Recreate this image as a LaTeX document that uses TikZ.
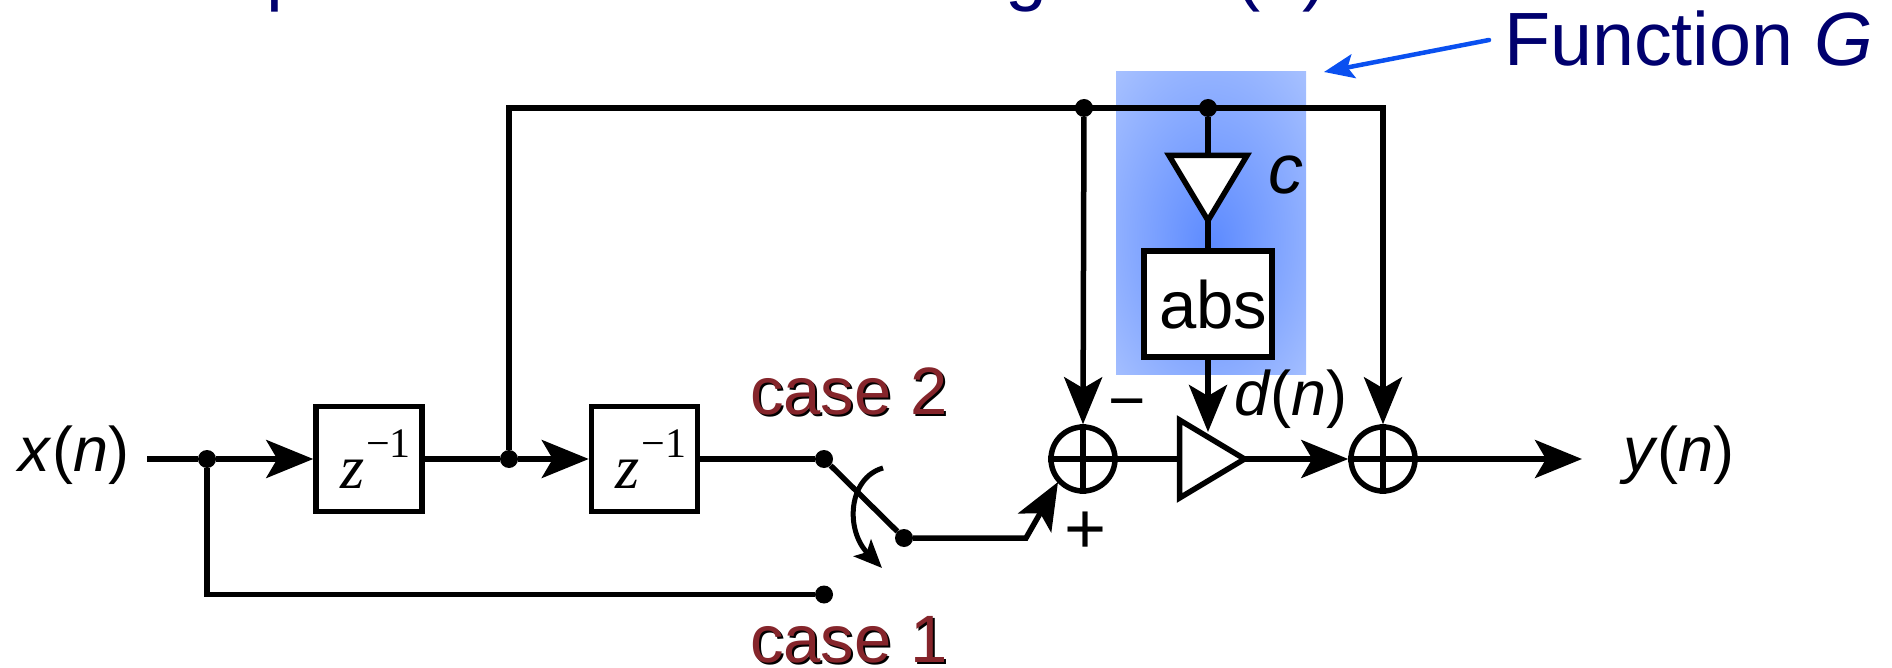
\documentclass[tikz,border=0pt]{standalone}
\usepackage{fontspec}
\setmainfont{Liberation Sans}
\newfontfamily\zfont{Liberation Serif}
\usetikzlibrary{arrows.meta,shapes.geometric}
\definecolor{navytext}{HTML}{00006E}
\definecolor{casered}{HTML}{85252B}
\definecolor{fninner}{HTML}{5C8AFF}
\definecolor{fnouter}{HTML}{A6C0FF}
\definecolor{fnarrow}{HTML}{0A50F0}
\pgfdeclareradialshading{fnglow}{\pgfpoint{0bp}{-4bp}}{color(0bp)=(fninner);color(36bp)=(fnouter);color(50bp)=(fnouter)}
\newcommand{\fs}[1]{\fontsize{#1}{#1}\selectfont}
\newcommand{\shadowed}[1]{\leavevmode\rlap{\raisebox{-2pt}{\kern2pt\textcolor{black}{#1}}}\textcolor{casered}{#1}}
\newcommand{\zinv}{\kern13pt\zfont\fs{62}\itshape z\kern2pt\raisebox{31pt}{\fs{42}\upshape \char"2212 1}}
\tikzset{
  x=1pt,y=-1pt,
  wire/.style={line width=5.5pt,line join=miter},
  flow/.style={wire,-{Stealth[length=47pt,width=38pt,inset=11pt]}},
  diagbox/.style={draw,line width=5.5pt,fill=white,inner sep=0pt,minimum width=106pt,minimum height=105pt},
  dotn/.style={circle,fill=black,inner sep=0pt,minimum size=18pt},
  sumn/.style={circle,draw,line width=5.5pt,inner sep=0pt,minimum size=64pt},
  tri/.style={isosceles triangle,isosceles triangle stretches,draw,fill=white,line width=5.5pt,
    inner sep=0pt,outer sep=0pt,minimum height=65pt,minimum width=78pt,anchor=lower side},
  lab/.style={inner sep=0pt,outer sep=0pt,anchor=base west},
  mathlab/.style={lab,font=\fs{63}},
  caselab/.style={lab,font=\fs{67}},
  title/.style={lab,font=\fs{75.5},text=navytext},
}
\begin{document}
\begin{tikzpicture}
\useasboundingbox (0,0) rectangle (1892,668);
\clip (0,0) rectangle (1892,668);
% glow
\shade[shading=fnglow] (1116,72) rectangle (1306,374);
% title remnants
\node[title] (tp) at (266,-3) {p};
\node[title] (tg) at (1005,-3) {g};
\node[title] (tn) at (1235,-3) {(\textit{n})};
% blocks
\node[diagbox] (z1) at (369,459) {\zinv};
\node[diagbox] (z2) at (644.5,459) {\zinv};
\node[diagbox,minimum width=128pt,minimum height=106pt] (abs) at (1208,304) {};
\node[sumn] (s1) at (1083,459) {};
\node[sumn] (s2) at (1383,459) {};
\node[tri,shape border rotate=270] (c) at (1208,155.5) {};
\node[tri,shape border rotate=0] (g) at (1179.5,459) {};
% junctions
\node[dotn] (j1) at (207,459) {};
\node[dotn] (j2) at (509,459) {};
\node[dotn] (j3) at (1084,108) {};
\node[dotn] (j4) at (1208,108) {};
\node[dotn] (d2) at (824,459) {};
\node[dotn] (d1) at (824,594.5) {};
\node[dotn] (sw) at (904,538) {};
% free ends
\coordinate (in) at (147,459);
\coordinate (out) at (1582,459);
\coordinate (tl) at (509,108);
\coordinate (tr) at (1383,108);
\coordinate (bl) at (207,594.5);
\coordinate (kink) at (1026,538);
\coordinate (sdiag) at (1058,482);
\coordinate (gc) at (1208,432);
\coordinate (ca) at (883,468);
\coordinate (cb) at (882,568);
\coordinate (fna) at (1489,40);
\coordinate (fnb) at (1324,72);
% connectors
\draw[wire] (in) -- (j1);
\draw[flow] (j1) -- (z1.west);
\draw[wire] (z1.east) -- (j2);
\draw[flow] (j2) -- (z2.west);
\draw[wire] (z2.east) -- (d2);
\draw[wire] (j1.south) -- (bl) -- (d1);
\draw[wire] (d2) -- (sw);
\draw[flow] (sw) -- (kink) -- (sdiag);
\draw[flow] (j2) -- (tl) -- (tr) -- (s2.north);
\draw[flow] (j3) -- (s1.north);
\draw[wire] (j4) -- (c.lower side);
\draw[wire] (c.apex) -- (abs.north);
\draw[flow] (abs.south) -- (gc);
\draw[wire] (s1.north) -- (s1.south);
\draw[wire] (s1.west) -- (s1.east);
\draw[wire] (s2.north) -- (s2.south);
\draw[wire] (s2.west) -- (s2.east);
\draw[wire] (s1.east) -- (g.lower side);
\draw[flow] (g.apex) -- (s2.west);
\draw[flow] (s2.east) -- (out);
\draw[line width=5pt,-{Stealth[length=28pt,width=24pt,inset=6pt]}] (ca) .. controls (848,478) and (845,530) .. (cb);
\draw[line width=4.5pt,line cap=round,fnarrow,-{Stealth[length=30pt,width=24pt,inset=6pt]}] (fna) -- (fnb);
% labels
\node[lab,font=\fs{67}] (abst) at (1159,328) {abs};
\node[mathlab] (xl) at (19,471) {\textit{x}(\textit{n})};
\node[mathlab] (yl) at (1623,471) {\textit{y}(\textit{n})};
\node[mathlab] (dl) at (1234,415) {\textit{d}(\textit{n})};
\node[lab,font=\fs{70}] (cl) at (1268,194) {\textit{c}};
\node[title] (fl) at (1504,66) {Function \textit{G}};
\node[caselab] (c2) at (750,414) {\shadowed{case 2}};
\node[caselab] (c1) at (750,662) {\shadowed{case 1}};
\node[lab,anchor=center,font=\fs{64}] (minus) at (1127,411) {\char"2212};
\node[lab,anchor=center,font=\fs{72}] (plus) at (1086,533) {+};
\end{tikzpicture}
\end{document}
